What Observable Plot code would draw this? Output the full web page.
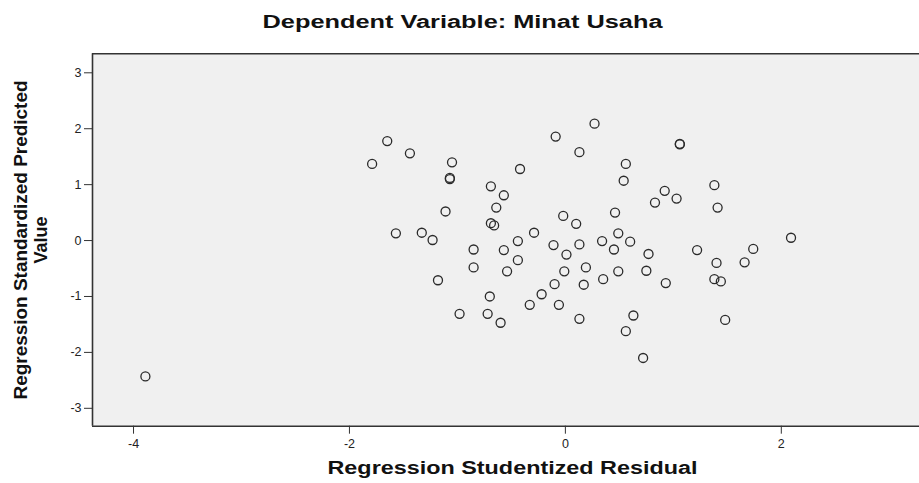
<!DOCTYPE html>
<html><head><meta charset="utf-8">
<script src="https://cdn.jsdelivr.net/npm/d3@7"></script>
<script src="https://cdn.jsdelivr.net/npm/@observablehq/plot@0.6"></script>
<style>body{margin:0;background:#fff;}</style>
</head><body><div id="chart"></div>
<script>
const title = "Dependent Variable: Minat Usaha";
const xLabel = "Regression Studentized Residual";
const yLabel1 = "Regression Standardized Predicted";
const yLabel2 = "Value";
const xTicks = [-4, -2, 0, 2];
const yTicks = [-3, -2, -1, 0, 1, 2, 3];
const xDomain = [-4.38, 3.28];
const yDomain = [-3.32, 3.34];

const residual = [
  -1.65, -1.44, -1.79, -1.05, -1.07, -1.07, -0.42, -0.69, -0.57, -0.64,
  -1.11, -0.69, -0.66, -1.57, -1.33, -1.23, -0.44, -0.29, -0.09, 0.27,
  0.13, 0.56, 0.54, -0.02, 0.10, 0.46, -0.11, 0.13, 0.34, 0.49,
  0.60, 0.45, -0.85, -0.57, 0.01, 0.77, -0.44, -0.85, -0.54, -0.01,
  0.19, 0.49, 0.75, -1.18, -0.10, 0.17, 0.35, -0.70, -0.22, -0.33,
  -0.06, -0.98, -0.72, -0.60, 0.13, 0.63, 0.56, 0.72, 1.06, 1.06,
  0.92, 0.83, 1.03, 1.38, 1.41, 1.22, 1.74, 2.09, 1.40, 1.66,
  0.93, 1.38, 1.44, 1.48, -3.89
];
const predicted = [
  1.78, 1.56, 1.37, 1.40, 1.12, 1.10, 1.28, 0.97, 0.81, 0.59,
  0.52, 0.31, 0.27, 0.13, 0.14, 0.01, -0.01, 0.14, 1.86, 2.09,
  1.58, 1.37, 1.07, 0.44, 0.30, 0.50, -0.08, -0.07, -0.01, 0.13,
  -0.02, -0.16, -0.16, -0.17, -0.25, -0.24, -0.35, -0.48, -0.55, -0.55,
  -0.48, -0.55, -0.54, -0.71, -0.78, -0.79, -0.69, -1.00, -0.96, -1.15,
  -1.15, -1.31, -1.31, -1.47, -1.40, -1.34, -1.62, -2.10, 1.73, 1.72,
  0.89, 0.68, 0.75, 0.99, 0.59, -0.17, -0.15, 0.05, -0.40, -0.39,
  -0.76, -0.69, -0.73, -1.42, -2.43
];

// measured text extents in the reference (px)
const textWidths = new Map([[title, 400], [xLabel, 370], [yLabel1, 319]]);

const data = residual.map((x, i) => ({x, y: predicted[i]}));
const font = "'Liberation Sans', Arial, sans-serif";
const labelStyle = {fontSize: 18, fontWeight: "bold", fill: "#111", lineAnchor: "middle", textAnchor: "middle"};

const chart = Plot.plot({
  width: 919,
  height: 483,
  marginTop: 53.3,
  marginBottom: 57.3,
  marginLeft: 92,
  marginRight: 0,
  style: {fontFamily: font, background: "#fff", color: "#222"},
  x: {domain: xDomain},
  y: {domain: yDomain},
  marks: [
    Plot.frame({fill: "#f0f0f0", stroke: null}),
    Plot.ruleX([xDomain[0]], {stroke: "#333", strokeWidth: 1.6}),
    Plot.ruleY(yDomain, {stroke: "#333", strokeWidth: 1.6}),
    Plot.dot(data, {x: "x", y: "y", r: 4.5, stroke: "#2a2a2a", strokeWidth: 1.3, fill: "none"}),
    Plot.axisX({ticks: xTicks, tickSize: 8, tickPadding: 5, fontSize: 12.5, tickFormat: d => String(d), label: null, stroke: "#333"}),
    Plot.axisY({ticks: yTicks, tickSize: 8, tickPadding: 3, fontSize: 12.5, tickFormat: d => String(d), label: null, stroke: "#333"}),
    Plot.text([title], {text: d => d, frameAnchor: "top", dx: -43.5, dy: -31.3, ...labelStyle}),
    Plot.text([xLabel], {text: d => d, frameAnchor: "bottom", dx: 6.5, dy: 42.3, ...labelStyle}),
    Plot.text([yLabel1], {text: d => d, frameAnchor: "left", rotate: -90, dx: -71.3, ...labelStyle}),
    Plot.text([yLabel2], {text: d => d, frameAnchor: "left", rotate: -90, dx: -51.3, ...labelStyle})
  ]
});

d3.select(chart).selectAll("text").each(function () {
  const w = textWidths.get(this.textContent);
  if (w) {
    this.setAttribute("textLength", w);
    this.setAttribute("lengthAdjust", "spacingAndGlyphs");
  }
});

document.getElementById("chart").appendChild(chart);
</script>
</body></html>
